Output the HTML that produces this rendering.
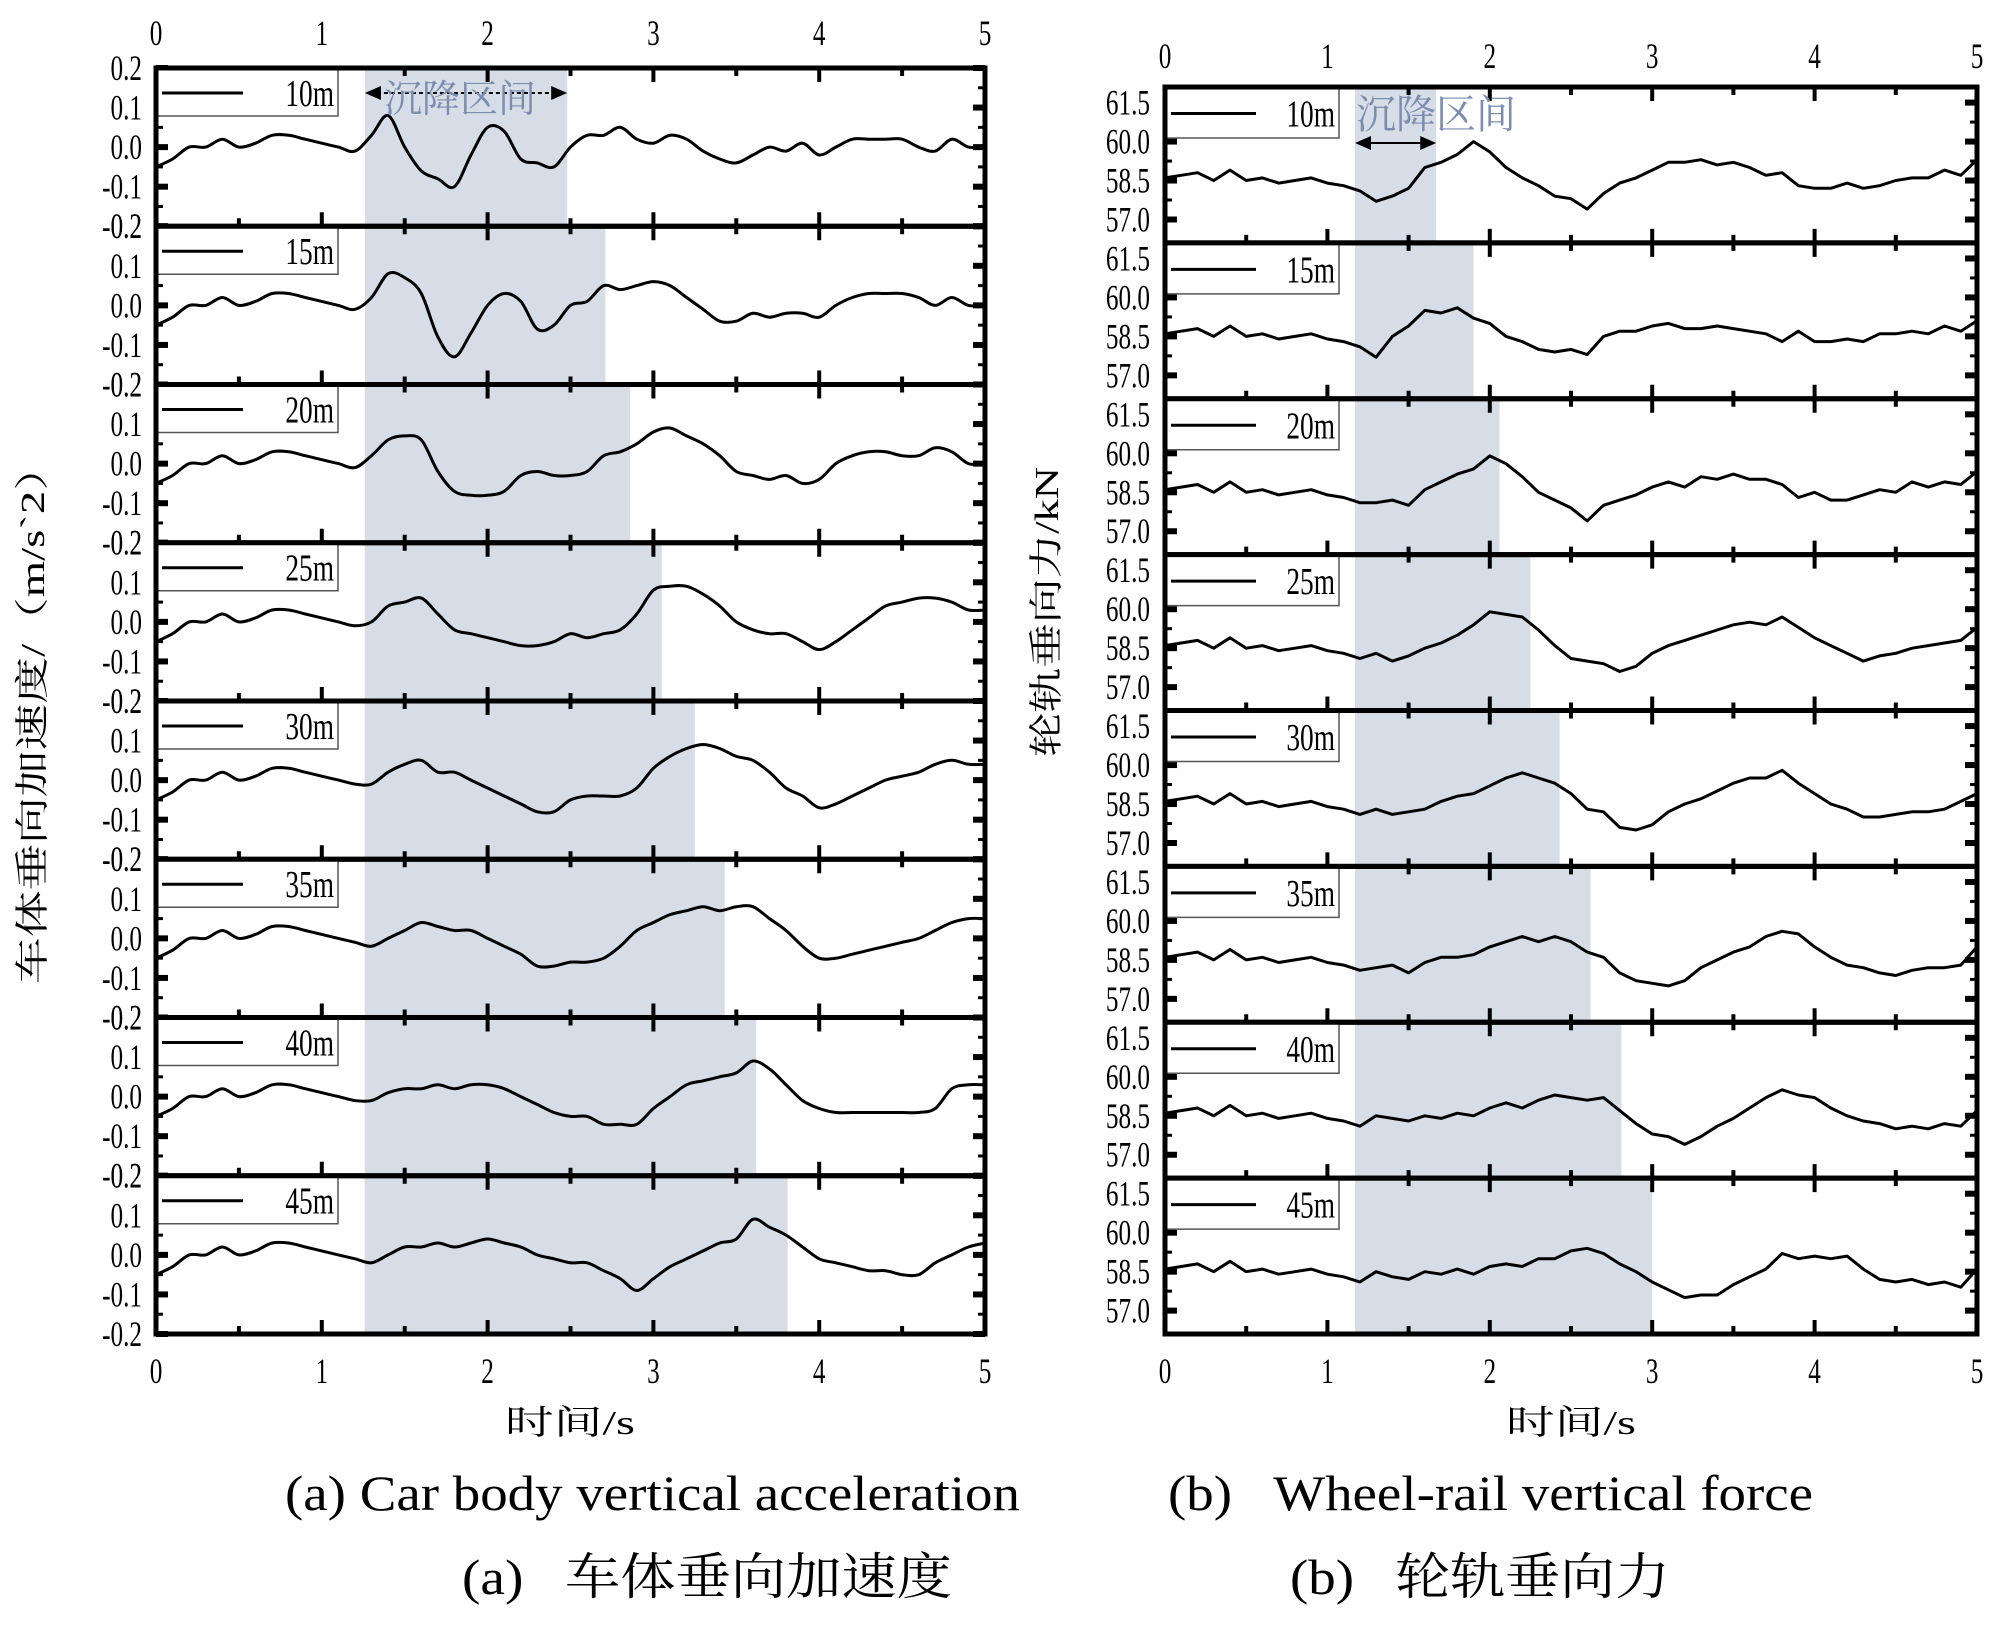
<!DOCTYPE html>
<html><head><meta charset="utf-8"><style>
html,body{margin:0;padding:0;background:#fff;}
svg{display:block;font-family:"Liberation Serif","Noto Serif CJK SC",serif;}
</style></head><body>
<svg id="fig" width="2000" height="1627" viewBox="0 0 2000 1627" xmlns="http://www.w3.org/2000/svg">
<g id="left"></g>
<g id="right"></g>
<text x="0" y="0" font-size="34" transform="translate(44,714) rotate(-90)" text-anchor="middle" font-family="Liberation Serif, Noto Serif CJK SC, serif" textLength="540" lengthAdjust="spacingAndGlyphs">车体垂向加速度/（m/s`2）</text>
<text x="0" y="0" font-size="34" transform="translate(1058,612) rotate(-90)" text-anchor="middle" font-family="Liberation Serif, Noto Serif CJK SC, serif" textLength="290" lengthAdjust="spacingAndGlyphs">轮轨垂向力/kN</text>
<text x="570" y="1434" font-size="34" text-anchor="middle" textLength="130" lengthAdjust="spacingAndGlyphs">时间/s</text>
<text x="1571" y="1434" font-size="34" text-anchor="middle" textLength="130" lengthAdjust="spacingAndGlyphs">时间/s</text>
<text x="285" y="1510" font-size="50" textLength="735" lengthAdjust="spacingAndGlyphs">(a) Car body vertical acceleration</text>
<text x="462" y="1594" font-size="50" textLength="490" lengthAdjust="spacingAndGlyphs">(a)&#160;&#160;&#160;车体垂向加速度</text>
<text x="1168" y="1510" font-size="50" textLength="645" lengthAdjust="spacingAndGlyphs">(b)&#160;&#160;&#160;Wheel-rail vertical force</text>
<text x="1290" y="1594" font-size="50" textLength="380" lengthAdjust="spacingAndGlyphs">(b)&#160;&#160;&#160;轮轨垂向力</text>
</svg>
<script>
const NS='http://www.w3.org/2000/svg';
const times=[0,0.1,0.2,0.3,0.4,0.5,0.6,0.7,0.8,0.9,1.0,1.1,1.2,1.3,1.4,1.5,1.6,1.7,1.8,1.9,2.0,2.1,2.2,2.3,2.4,2.5,2.6,2.7,2.8,2.9,3.0,3.1,3.2,3.3,3.4,3.5,3.6,3.7,3.8,3.9,4.0,4.1,4.2,4.3,4.4,4.5,4.6,4.7,4.8,4.9,5.0];
const seriesLabels=['10m','15m','20m','25m','30m','35m','40m','45m'];
const xTicks=[0,1,2,3,4,5];
const accTicks=['0.2','0.1','0.0','-0.1','-0.2'];
const accTickVals=[0.2,0.1,0,-0.1,-0.2];
const forceTicks=['61.5','60.0','58.5','57.0'];
const forceTickVals=[61.5,60.0,58.5,57.0];
const accShadeStart=1.26;
const accShadeEnd=[2.48,2.71,2.86,3.05,3.25,3.43,3.62,3.81];
const forceShadeStart=1.17;
const forceShadeEnd=[1.67,1.90,2.06,2.25,2.43,2.62,2.81,3.0];
const accBase=[-0.05,-0.03,0.0,0.0,0.02,0.0,0.01,0.03,0.03,0.02,0.01,0.0,-0.01];
const acc10=accBase.concat([0.03,0.08,0.0,-0.06,-0.08,-0.1,-0.02,0.05,0.04,-0.03,-0.04,-0.05,0.0,0.03,0.03,0.05,0.02,0.01,0.03,0.02,-0.01,-0.03,-0.04,-0.02,0.0,-0.01,0.01,-0.02,0.0,0.02,0.02,0.02,0.02,0.0,-0.01,0.02,0.0,0.0]);
const acc15=accBase.concat([0.02,0.08,0.07,0.03,-0.08,-0.13,-0.07,0.0,0.03,0.01,-0.06,-0.05,0.0,0.01,0.05,0.04,0.05,0.06,0.05,0.02,-0.01,-0.04,-0.04,-0.02,-0.03,-0.02,-0.02,-0.03,0.0,0.02,0.03,0.03,0.03,0.02,0.0,0.02,0.0,0.0]);
const acc20=accBase.concat([0.02,0.06,0.07,0.06,-0.02,-0.07,-0.08,-0.08,-0.07,-0.03,-0.02,-0.03,-0.03,-0.02,0.02,0.03,0.05,0.08,0.09,0.07,0.05,0.02,-0.02,-0.03,-0.04,-0.03,-0.05,-0.04,0.0,0.02,0.03,0.03,0.02,0.02,0.04,0.03,0.0,0.0]);
const acc25=accBase.concat([0.0,0.04,0.05,0.06,0.02,-0.02,-0.03,-0.04,-0.05,-0.06,-0.06,-0.05,-0.03,-0.04,-0.03,-0.02,0.02,0.08,0.09,0.09,0.07,0.04,0.0,-0.02,-0.03,-0.03,-0.05,-0.07,-0.05,-0.02,0.01,0.04,0.05,0.06,0.06,0.05,0.03,0.03]);
const acc30=accBase.concat([-0.01,0.02,0.04,0.05,0.02,0.02,0.0,-0.02,-0.04,-0.06,-0.08,-0.08,-0.05,-0.04,-0.04,-0.04,-0.02,0.03,0.06,0.08,0.09,0.08,0.06,0.05,0.02,-0.02,-0.04,-0.07,-0.06,-0.04,-0.02,0.0,0.01,0.02,0.04,0.05,0.04,0.04]);
const acc35=accBase.concat([-0.02,0.0,0.02,0.04,0.03,0.02,0.02,0.0,-0.02,-0.04,-0.07,-0.07,-0.06,-0.06,-0.05,-0.02,0.02,0.04,0.06,0.07,0.08,0.07,0.08,0.08,0.05,0.02,-0.02,-0.05,-0.05,-0.04,-0.03,-0.02,-0.01,0.0,0.02,0.04,0.05,0.05]);
const acc40=accBase.concat([-0.01,0.01,0.02,0.02,0.03,0.02,0.03,0.03,0.02,0.0,-0.02,-0.04,-0.05,-0.05,-0.07,-0.07,-0.07,-0.03,0.0,0.03,0.04,0.05,0.06,0.09,0.07,0.03,-0.01,-0.03,-0.04,-0.04,-0.04,-0.04,-0.04,-0.04,-0.03,0.02,0.03,0.03]);
const acc45=accBase.concat([-0.02,0.0,0.02,0.02,0.03,0.02,0.03,0.04,0.03,0.02,0.0,-0.01,-0.02,-0.02,-0.04,-0.06,-0.09,-0.06,-0.03,-0.01,0.01,0.03,0.04,0.09,0.07,0.05,0.02,-0.01,-0.02,-0.03,-0.04,-0.04,-0.05,-0.05,-0.02,0.0,0.02,0.03]);
const forceBase=[58.6,58.7,58.8,58.5,58.9,58.5,58.6,58.4,58.5,58.6,58.4,58.3,58.1];
const force10=forceBase.concat([57.7,57.9,58.2,59.0,59.2,59.5,60.0,59.6,59.0,58.6,58.3,57.9,57.8,57.4,58.0,58.4,58.6,58.9,59.2,59.2,59.3,59.1,59.2,59.0,58.7,58.8,58.3,58.2,58.2,58.4,58.2,58.3,58.5,58.6,58.6,58.9,58.7,59.3]);
const force15=forceBase.concat([57.7,58.5,58.9,59.5,59.4,59.6,59.2,59.0,58.5,58.3,58.0,57.9,58.0,57.8,58.5,58.7,58.7,58.9,59.0,58.8,58.8,58.9,58.8,58.7,58.6,58.3,58.7,58.3,58.3,58.4,58.3,58.6,58.6,58.7,58.6,58.9,58.7,59.1]);
const force20=forceBase.concat([58.1,58.2,58.0,58.6,58.9,59.2,59.4,59.9,59.6,59.1,58.5,58.2,57.9,57.4,58.0,58.2,58.4,58.7,58.9,58.7,59.1,59.0,59.2,59.0,59.0,58.8,58.3,58.5,58.2,58.2,58.4,58.6,58.5,58.9,58.7,58.9,58.8,59.3]);
const force25=forceBase.concat([58.3,58.0,58.2,58.5,58.7,59.0,59.4,59.9,59.8,59.7,59.2,58.6,58.1,58.0,57.9,57.6,57.8,58.3,58.6,58.8,59.0,59.2,59.4,59.5,59.4,59.7,59.3,58.9,58.6,58.3,58.0,58.2,58.3,58.5,58.6,58.7,58.8,59.3]);
const force30=forceBase.concat([58.3,58.1,58.2,58.3,58.6,58.8,58.9,59.2,59.5,59.7,59.5,59.3,58.9,58.3,58.2,57.6,57.5,57.7,58.2,58.5,58.7,59.0,59.3,59.5,59.5,59.8,59.3,58.9,58.5,58.3,58.0,58.0,58.1,58.2,58.2,58.3,58.6,58.9]);
const force35=forceBase.concat([58.2,58.3,58.0,58.4,58.6,58.6,58.7,59.0,59.2,59.4,59.2,59.4,59.2,58.8,58.6,58.0,57.7,57.6,57.5,57.7,58.2,58.5,58.8,59.0,59.4,59.6,59.5,59.0,58.6,58.3,58.2,58.0,57.9,58.1,58.2,58.2,58.3,59.0]);
const force40=forceBase.concat([58.5,58.4,58.3,58.5,58.4,58.6,58.5,58.8,59.0,58.8,59.1,59.3,59.2,59.1,59.2,58.7,58.2,57.8,57.7,57.4,57.7,58.1,58.4,58.8,59.2,59.5,59.3,59.2,58.8,58.5,58.3,58.2,58.0,58.1,58.0,58.2,58.1,58.7]);
const force45=forceBase.concat([58.5,58.3,58.2,58.5,58.4,58.6,58.4,58.7,58.8,58.7,59.0,59.0,59.3,59.4,59.2,58.8,58.5,58.1,57.8,57.5,57.6,57.6,58.0,58.3,58.6,59.2,59.0,59.1,59.0,59.1,58.6,58.2,58.1,58.2,58.0,58.1,57.9,58.6]);
const accSeries=[acc10,acc15,acc20,acc25,acc30,acc35,acc40,acc45];
const forceSeries=[force10,force15,force20,force25,force30,force35,force40,force45];

function mk(parent,tag,attrs,text){
  const e=document.createElementNS(NS,tag);
  for(const k in attrs)e.setAttribute(k,attrs[k]);
  if(text!==undefined)e.textContent=text;
  parent.appendChild(e);return e;
}
function smoothPath(pts){
  let d='M'+pts[0][0].toFixed(1)+','+pts[0][1].toFixed(1);
  for(let i=0;i<pts.length-1;i++){
    const p0=pts[Math.max(0,i-1)],p1=pts[i],p2=pts[i+1],p3=pts[Math.min(pts.length-1,i+2)];
    const c1=[p1[0]+(p2[0]-p0[0])/6,p1[1]+(p2[1]-p0[1])/6];
    const c2=[p2[0]-(p3[0]-p1[0])/6,p2[1]-(p3[1]-p1[1])/6];
    d+='C'+c1[0].toFixed(1)+','+c1[1].toFixed(1)+' '+c2[0].toFixed(1)+','+c2[1].toFixed(1)+' '+p2[0].toFixed(1)+','+p2[1].toFixed(1);
  }
  return d;
}
function buildChart(g,cfg){
  const {x0,x1,top,bottom,ymin,ymax,series,shadeStart,shadeEnd,tickLabels,tickVals,smooth,topLabelY,labelX,legendW,legendH,lineX0,lineX1}=cfg;
  const ph=(bottom-top)/8;
  const sx=t=>x0+(t-0)/(5-0)*(x1-x0);
  for(let i=0;i<8;i++){
    const r=mk(g,'rect',{x:sx(shadeStart),y:top+i*ph,width:sx(shadeEnd[i])-sx(shadeStart),height:bottom-top-i*ph,fill:'#d6dde7'});
    
    
  }
  for(let i=0;i<8;i++){
    const pt=top+i*ph,pb=pt+ph;
    const sy=v=>pb-(v-ymin)/(ymax-ymin)*ph;
    const pg=mk(g,'g',{});
    
    
    for(let t=0;t<=5;t+=0.5){
      const len=(t%1===0)?14:8;
      mk(pg,'line',{x1:sx(t),x2:sx(t),y1:pt,y2:pt+len,stroke:'#000','stroke-width':4});
      mk(pg,'line',{x1:sx(t),x2:sx(t),y1:pb,y2:pb-len,stroke:'#000','stroke-width':4});
    }
    tickVals.forEach((v,k)=>{
      const y=sy(v);
      if(y<pt-1||y>pb+1)return;
      mk(pg,'line',{x1:x0,x2:x0+12,y1:y,y2:y,stroke:'#000','stroke-width':6});
      mk(pg,'line',{x1:x1,x2:x1-12,y1:y,y2:y,stroke:'#000','stroke-width':6});
      const tl=mk(pg,'text',{x:labelX,y:y+12,'font-size':36,'text-anchor':'end',transform:'translate('+labelX+',0) scale(0.7,1) translate('+(-labelX)+',0)'},tickLabels[k]);
      
      
    });
    for(let k=0;k<tickVals.length-1;k++){
      const y=sy((tickVals[k]+tickVals[k+1])/2);
      mk(pg,'line',{x1:x0,x2:x0+7,y1:y,y2:y,stroke:'#000','stroke-width':3});
      mk(pg,'line',{x1:x1,x2:x1-7,y1:y,y2:y,stroke:'#000','stroke-width':3});
    }
    const lg=mk(pg,'g',{});
    
    
    mk(lg,'rect',{x:x0,y:pt,width:legendW,height:legendH,fill:'#fff',stroke:'#555','stroke-width':1.5});
    mk(lg,'line',{x1:lineX0,x2:lineX1,y1:pt+legendH*0.52,y2:pt+legendH*0.52,stroke:'#000','stroke-width':3});
    mk(lg,'text',{x:x0+legendW-4,y:pt+legendH*0.52+13,'font-size':38,'text-anchor':'end',transform:'translate('+(x0+legendW-4)+',0) scale(0.72,1) translate('+(-(x0+legendW-4))+',0)'},seriesLabels[i]);
    const pts=times.map((t,k)=>[sx(t),sy(series[i][k])]);
    const d=smooth?smoothPath(pts):'M'+pts.map(p=>p[0].toFixed(1)+','+p[1].toFixed(1)).join('L');
    const ln=mk(pg,'path',{d:d,fill:'none',stroke:'#000','stroke-width':3,'stroke-linejoin':'round'});
    
    
    mk(pg,'rect',{x:x0,y:pt,width:x1-x0,height:ph,fill:'none',stroke:'#000','stroke-width':5});
  }
  xTicks.forEach(t=>{
    const a=mk(g,'text',{x:sx(t),y:topLabelY,'font-size':36,'text-anchor':'middle',transform:'translate('+sx(t)+',0) scale(0.7,1) translate('+(-sx(t))+',0)'},String(t));
    
    
    const b=mk(g,'text',{x:sx(t),y:1383,'font-size':36,'text-anchor':'middle',transform:'translate('+sx(t)+',0) scale(0.7,1) translate('+(-sx(t))+',0)'},String(t));
    
    
  });
  return sx;
}
const L=document.getElementById('left');
const sxL=buildChart(L,{x0:156,x1:985,top:68,bottom:1334,ymin:-0.2,ymax:0.2,series:accSeries,shadeStart:accShadeStart,shadeEnd:accShadeEnd,tickLabels:accTicks,tickVals:accTickVals,smooth:true,topLabelY:45,labelX:142,legendW:182,legendH:48,lineX0:162,lineX1:243});
const R=document.getElementById('right');
const sxR=buildChart(R,{x0:1165,x1:1977,top:87,bottom:1334,ymin:56.1,ymax:62.1,series:forceSeries,shadeStart:forceShadeStart,shadeEnd:forceShadeEnd,tickLabels:forceTicks,tickVals:forceTickVals,smooth:false,topLabelY:68,labelX:1150,legendW:174,legendH:51,lineX0:1171,lineX1:1256});
function arrow(g,xa,xb,y,dashed){
  const a=mk(g,'g',{});
  
  
  mk(a,'line',{x1:xa+12,x2:xb-12,y1:y,y2:y,stroke:'#000','stroke-width':2,'stroke-dasharray':dashed?'4,3':'none'});
  mk(a,'polygon',{points:xa+','+y+' '+(xa+16)+','+(y-7)+' '+(xa+16)+','+(y+7),fill:'#000'});
  mk(a,'polygon',{points:xb+','+y+' '+(xb-16)+','+(y-7)+' '+(xb-16)+','+(y+7),fill:'#000'});
}
arrow(L,sxL(1.26),sxL(2.48),93,true);
const t1=mk(L,'text',{x:384,y:112,'font-size':38,fill:'#7d8db0','font-family':'Liberation Serif, Noto Serif CJK SC, serif'},'沉降区间');


arrow(R,sxR(1.17),sxR(1.67),143,false);
const t2=mk(R,'text',{x:1356,y:128,'font-size':40,fill:'#7d8db0','font-family':'Liberation Serif, Noto Serif CJK SC, serif'},'沉降区间');


</script>
</body></html>
